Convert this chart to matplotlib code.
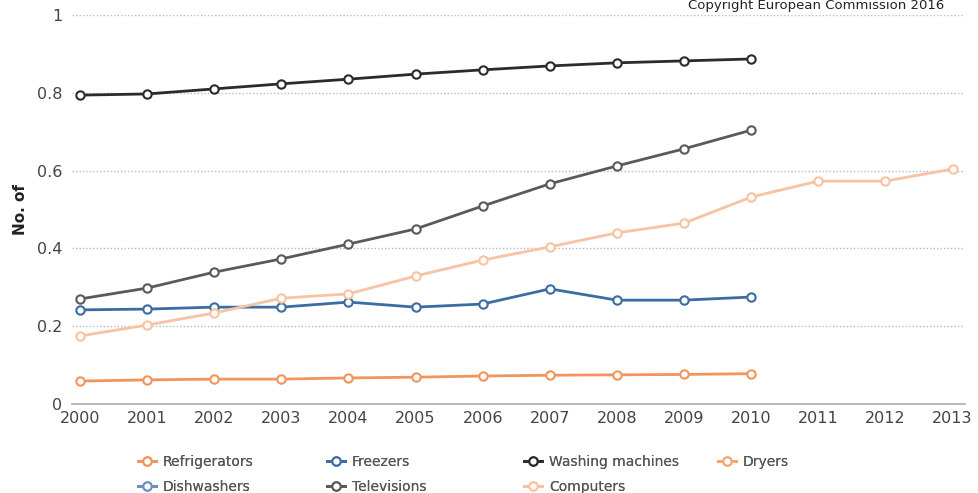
import matplotlib
matplotlib.use("Agg")
import matplotlib.pyplot as plt

years = list(range(2000, 2014))

refrigerators = [0.059, 0.062, 0.064, 0.064, 0.067, 0.069, 0.072, 0.074, 0.075, 0.076, 0.078]
freezers = [0.242, 0.244, 0.249, 0.249, 0.262, 0.249, 0.257, 0.296, 0.267, 0.267, 0.275]
washing = [0.794, 0.797, 0.810, 0.823, 0.835, 0.848, 0.859, 0.869, 0.877, 0.882, 0.887]
dryers = []
dishwashers = []
televisions = [0.270, 0.298, 0.339, 0.373, 0.411, 0.450, 0.509, 0.566, 0.612, 0.656, 0.704]
computers = [0.175, 0.203, 0.234, 0.272, 0.283, 0.329, 0.370, 0.404, 0.440, 0.465,
             0.532, 0.573, 0.573, 0.604]

series = [
    ("Refrigerators", refrigerators, "#f2955c"),
    ("Dishwashers", dishwashers, "#6a90bd"),
    ("Freezers", freezers, "#3d6ca3"),
    ("Televisions", televisions, "#5a5a5a"),
    ("Washing machines", washing, "#2b2b2b"),
    ("Computers", computers, "#f7c3a2"),
    ("Dryers", dryers, "#f3a673"),
]

fig = plt.figure(figsize=(9.79, 4.93), dpi=100)
ax = fig.add_axes([0.0735, 0.1805, 0.9125, 0.7891])

handles = []
for name, vals, col in series:
    h, = ax.plot(years[:len(vals)], vals, color=col, lw=2, marker="o", ms=6,
                 mfc="white", mec=col, mew=1.5, clip_on=False, zorder=3, label=name)
    handles.append(h)

ax.set_xlim(1999.88, 2013.19)
ax.set_ylim(0, 1)
ax.set_xticks(years)
ax.set_yticks([0, 0.2, 0.4, 0.6, 0.8, 1])
ax.set_yticklabels(["0", "0.2", "0.4", "0.6", "0.8", "1"])
ax.tick_params(length=0, labelsize=11.5, colors="#444444")
ax.tick_params(axis="y", pad=7)
ax.tick_params(axis="x", pad=5)
for s in ["top", "right", "left"]:
    ax.spines[s].set_visible(False)
ax.spines["bottom"].set_color("#aaaaaa")
ax.spines["bottom"].set_linewidth(1.2)
for y in [0.2, 0.4, 0.6, 0.8, 1]:
    ax.axhline(y, color="#bbbbbb", lw=1, ls=(0, (1, 1.5)), zorder=1)

ax.set_ylabel("No. of", fontsize=11, fontweight="bold", color="#222222", labelpad=6)

fig.text(0.965, 0.982, "Copyright European Commission 2016", ha="right", va="baseline",
         fontsize=9.5, color="#222222")

# legend columns placed separately, like the original layout
cols = [(147, [0, 1]), (336, [2, 3]), (533, [4, 5]), (727, [6])]
for xc, idx in cols:
    leg = fig.legend(handles=[handles[i] for i in idx], loc="upper left",
                     bbox_to_anchor=((xc - 9) / 979, 0.078), frameon=False,
                     fontsize=10, labelcolor="#555555", handlelength=1.3,
                     handletextpad=0.5, labelspacing=0.85, borderpad=0,
                     borderaxespad=0)
    fig.add_artist(leg)

fig.savefig("out.png", dpi=100)
